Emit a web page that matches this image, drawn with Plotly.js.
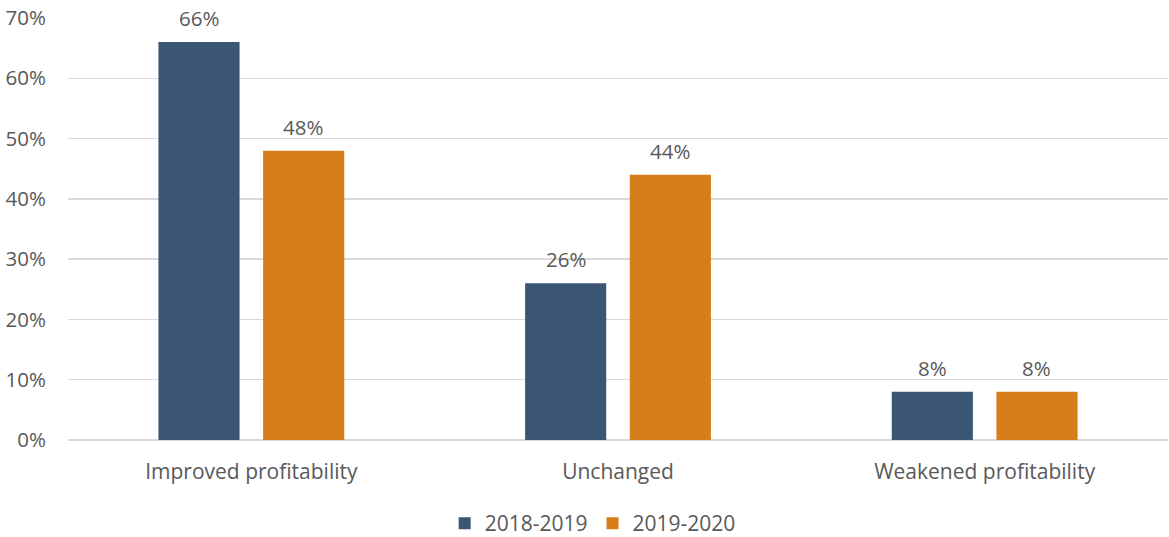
<!DOCTYPE html>
<html>
<head>
<meta charset="utf-8">
<script src="https://cdn.plot.ly/plotly-3.0.1.min.js"></script>
<style>html,body{margin:0;padding:0;background:#fff}#chart{width:1169px;height:537px}</style>
</head>
<body>
<div id="chart"></div>
<script>
const categories = ["Improved profitability", "Unchanged", "Weakened profitability"];
const seriesNames = ["2018-2019", "2019-2020"];
const values2018_2019 = [0.66, 0.26, 0.08];
const values2019_2020 = [0.48, 0.44, 0.08];
const yTickVals = [0, 0.1, 0.2, 0.3, 0.4, 0.5, 0.6, 0.7];

const colors = ["#3A5674", "#D77D19"];
const txtColor = "#595959";
const fontFam = "'Open Sans', sans-serif";
const fs = 21;
const fsNum = 20.5;
const seriesValues = [values2018_2019, values2019_2020];

const traces = seriesValues.map((vals, i) => ({
  type: "bar",
  name: seriesNames[i],
  x: categories,
  y: vals,
  marker: {color: colors[i]},
  hoverinfo: "skip"
}));

const annotations = [];
seriesValues.forEach((vals, i) => {
  vals.forEach((v, j) => {
    annotations.push({
      x: categories[j], y: v, xref: "x", yref: "y",
      text: Math.round(v * 100) + "%",
      showarrow: false, yanchor: "bottom",
      xshift: (i === 0 ? -52 : 52), yshift: 8,
      font: {family: fontFam, size: fsNum, color: txtColor}
    });
  });
});

const layout = {
  width: 1169, height: 537,
  margin: {l: 68, r: 1, t: 18, b: 97},
  paper_bgcolor: "#fff", plot_bgcolor: "#fff",
  barmode: "group", bargap: 0.429, bargroupgap: 0.225,
  font: {family: fontFam, size: fs, color: txtColor},
  xaxis: {
    type: "category", showgrid: false, zeroline: false, showline: false,
    ticks: "", ticklabelstandoff: 17,
    tickfont: {family: fontFam, size: fs, color: txtColor}
  },
  yaxis: {
    range: [0, 0.7], tickvals: yTickVals, tickformat: ".0%",
    showgrid: true, gridcolor: "#D9D9D9", gridwidth: 1.3,
    zeroline: true, zerolinecolor: "#D9D9D9", zerolinewidth: 1.3,
    showline: false, ticks: "", ticklabelstandoff: 21,
    tickfont: {family: fontFam, size: fsNum, color: txtColor}
  },
  showlegend: true,
  legend: {
    orientation: "h", x: 0.507, xanchor: "center", xref: "container",
    y: 0.025, yanchor: "middle", yref: "container",
    font: {family: fontFam, size: fs, color: txtColor},
    itemwidth: 30, tracegroupgap: 0
  },
  annotations: annotations
};

Plotly.newPlot("chart", traces, layout, {displayModeBar: false, staticPlot: true});
</script>
</body>
</html>
